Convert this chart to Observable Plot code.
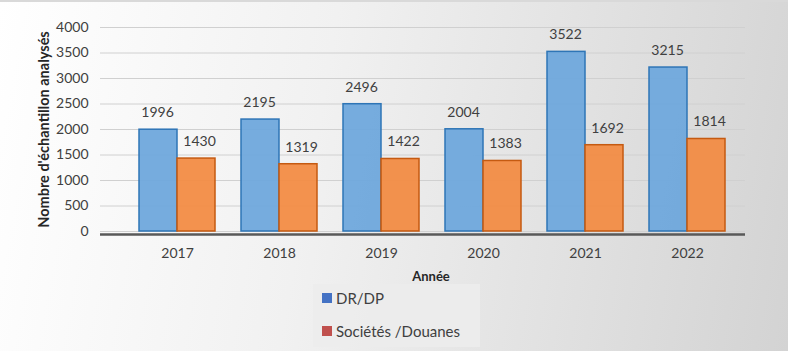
<!DOCTYPE html>
<html>
<head>
<meta charset="utf-8">
<script src="https://cdn.jsdelivr.net/npm/d3@7"></script>
<script src="https://cdn.jsdelivr.net/npm/@observablehq/plot@0.6"></script>
<style>
  html, body { margin: 0; padding: 0; }
  body {
    width: 788px; height: 351px; overflow: hidden; position: relative;
    background: linear-gradient(100deg, #ffffff 0%, #f1f1f1 40%, #d3d3d3 100%);
    font-family: Lato, "Open Sans", sans-serif;
    box-sizing: border-box; border-top: 2px solid #d9d9d9;
  }
  #chart svg { display: block; background: transparent; }
  #xtitle { position: absolute; left: 0; width: 862px; top: 266px; text-align: center;
    font-weight: bold; font-size: 13px; color: #262626; }
  #legend { position: absolute; left: 313px; top: 282px; width: 167px; height: 63px;
    background: rgba(236,236,236,0.9); font-size: 15px; color: #404040; }
  .item { position: absolute; left: 9px; display: flex; align-items: center; }
  .sw { width: 10px; height: 10px; margin-right: 4px; }
  #chart svg g[aria-label="y-axis label"] text { font-weight: bold; fill: #262626; font-size: 14.5px; }
</style>
</head>
<body>
<div id="chart"></div>
<div id="xtitle">Année</div>
<div id="legend"></div>
<script>
const years = ["2017", "2018", "2019", "2020", "2021", "2022"];
const drdp = [1996, 2195, 2496, 2004, 3522, 3215];
const societes = [1430, 1319, 1422, 1383, 1692, 1814];
const seriesNames = ["DR/DP", "Sociétés /Douanes"];
const legendColors = ["#4472C4", "#C0504D"];
const yTicks = [0, 500, 1000, 1500, 2000, 2500, 3000, 3500, 4000];

const blueData = years.map((y, i) => ({year: y, value: drdp[i]}));
const orangeData = years.map((y, i) => ({year: y, value: societes[i]}));

const chart = Plot.plot({
  width: 788,
  height: 268,
  marginLeft: 100,
  marginRight: 43,
  marginTop: 25,
  marginBottom: 39,
  style: {fontFamily: "Lato, 'Open Sans', sans-serif", fontSize: "14px", color: "#404040", background: "transparent"},
  x: {domain: years, range: [126, 738], padding: 0, label: null},
  y: {domain: [0, 4000], ticks: yTicks, label: "Nombre d'échantillon analysés"},
  marks: [
    Plot.gridY(yTicks, {stroke: "#d0d0d0", strokeOpacity: 1, strokeWidth: 1}),
    Plot.axisY(yTicks, {tickSize: 0, tickPadding: 12, fontSize: 14, tickFormat: d3.format("d"),
      label: "Nombre d'échantillon analysés", labelAnchor: "center", labelArrow: "none", labelOffset: 62}),
    Plot.axisX({tickSize: 0, tickPadding: 17, fontSize: 14}),
    Plot.barY(blueData, {x: "year", y: "value", insetLeft: 13, insetRight: 51,
      fill: "#6fa8dc", fillOpacity: 0.95, stroke: "#2e75b6", strokeWidth: 1.5}),
    Plot.barY(orangeData, {x: "year", y: "value", insetLeft: 51, insetRight: 13,
      fill: "#f28c45", fillOpacity: 0.95, stroke: "#c55a11", strokeWidth: 1.5}),
    Plot.ruleY([0], {stroke: "#595959", strokeWidth: 2.5, dy: 3}),
    Plot.text(blueData, {x: "year", y: "value", text: d => String(d.value), dx: -20, dy: -17, fill: "#404040", fontSize: 14}),
    Plot.text(orangeData, {x: "year", y: "value", text: d => String(d.value), dx: 22, dy: -17, fill: "#404040", fontSize: 14})
  ]
});
document.getElementById("chart").appendChild(chart);

const leg = document.getElementById("legend");
seriesNames.forEach((name, i) => {
  const it = document.createElement("div");
  it.className = "item";
  it.style.top = (i === 0 ? 5 : 38) + "px";
  it.innerHTML = `<span class="sw" style="background:${legendColors[i]}"></span><span>${name}</span>`;
  leg.appendChild(it);
});
</script>
</body>
</html>
